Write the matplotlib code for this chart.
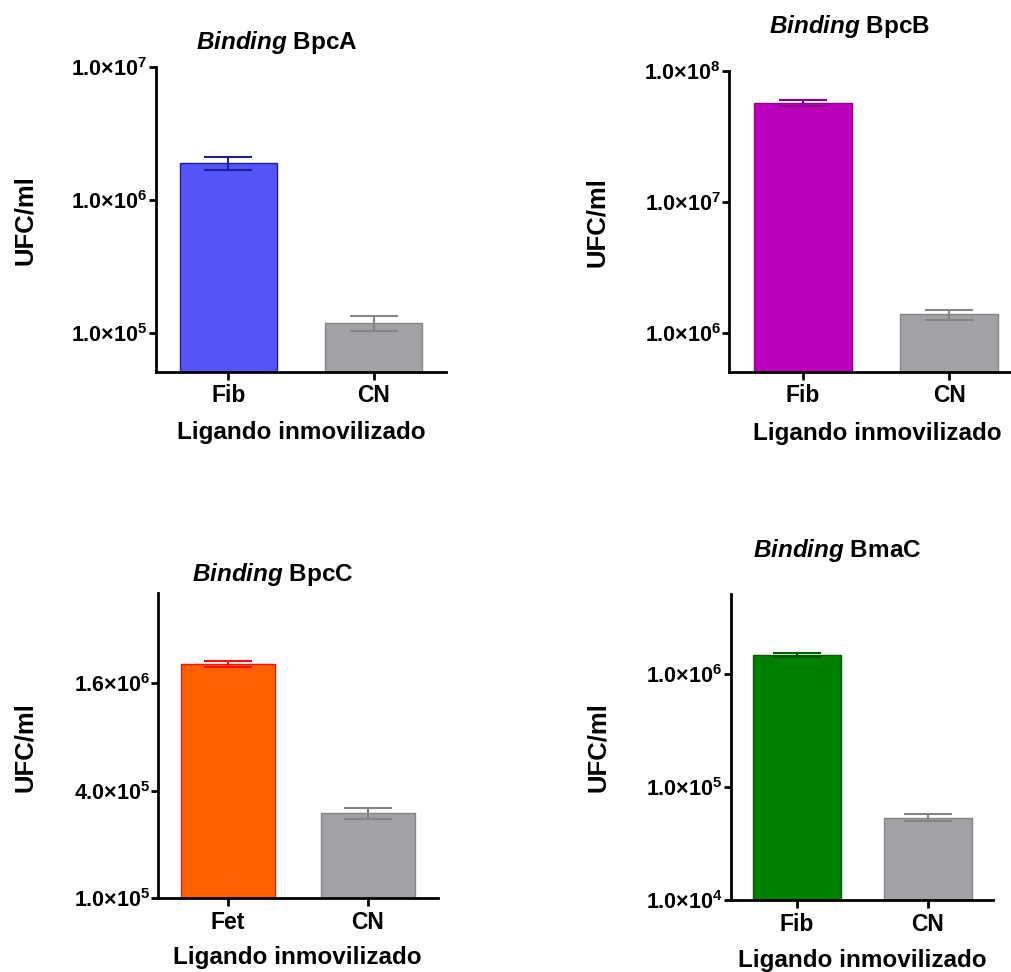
import matplotlib
matplotlib.use("Agg")
import matplotlib.pyplot as plt

plt.rcParams["font.family"] = ["Liberation Sans", "DejaVu Sans"]
plt.rcParams["font.weight"] = "bold"
plt.rcParams["mathtext.fontset"] = "custom"
plt.rcParams["mathtext.rm"] = "Liberation Sans:weight=bold"
plt.rcParams["mathtext.bf"] = "Liberation Sans:weight=bold"
plt.rcParams["mathtext.it"] = "Liberation Sans:style=italic:weight=bold"

# ---- data: mean UFC/ml and error per immobilised ligand ----
bpca_ligands = ["Fib", "CN"]
bpca_values = [1.9e6, 1.19e5]
bpca_errors = [2.2e5, 1.5e4]
bpca_yticks = [1e5, 1e6, 1e7]
bpca_yticklabels = ["1.0×10$^{5}$", "1.0×10$^{6}$", "1.0×10$^{7}$"]

bpcb_ligands = ["Fib", "CN"]
bpcb_values = [5.7e7, 1.38e6]
bpcb_errors = [3.0e6, 1.2e5]
bpcb_yticks = [1e6, 1e7, 1e8]
bpcb_yticklabels = ["1.0×10$^{6}$", "1.0×10$^{7}$", "1.0×10$^{8}$"]

bpcc_ligands = ["Fet", "CN"]
bpcc_values = [2.05e6, 3.0e5]
bpcc_errors = [7.0e4, 2.2e4]
bpcc_yticks = [1e5, 4e5, 1.6e6]
bpcc_yticklabels = ["1.0×10$^{5}$", "4.0×10$^{5}$", "1.6×10$^{6}$"]

bmac_ligands = ["Fib", "CN"]
bmac_values = [1.47e6, 5.35e4]
bmac_errors = [5.0e4, 4.0e3]
bmac_yticks = [1e4, 1e5, 1e6]
bmac_yticklabels = ["1.0×10$^{4}$", "1.0×10$^{5}$", "1.0×10$^{6}$"]

proteins = ["BpcA", "BpcB", "BpcC", "BmaC"]

W, H = 1012, 972
fig = plt.figure(figsize=(W / 100, H / 100), dpi=100)


def rect(l, r, t, b):
    return [l / W, 1 - b / H, (r - l) / W, (b - t) / H]


def ftext(x, y, s, **kw):
    fig.text(x / W, 1 - y / H, s, ha="center", va="center", **kw)


panels = [
    dict(rect=rect(156, 446, 67, 372), ylim=(5.09e4, 1e7),
         ligands=bpca_ligands, values=bpca_values, errors=bpca_errors,
         yticks=bpca_yticks, yticklabels=bpca_yticklabels,
         face="#5555F7", edge="#1E1E9C",
         title_xy=(277, 42), ylabel_xy=(25, 220), xlabel_xy=(301, 432)),
    dict(rect=rect(729.3, 1022.7, 70.7, 371.7), ylim=(5.04e5, 1e8),
         ligands=bpcb_ligands, values=bpcb_values, errors=bpcb_errors,
         yticks=bpcb_yticks, yticklabels=bpcb_yticklabels,
         face="#BB00BB", edge="#8E008E",
         title_xy=(850, 26), ylabel_xy=(597, 222), xlabel_xy=(877, 433)),
    dict(rect=rect(158.3, 437.7, 593.3, 898.3), ylim=(1e5, 5.1e6),
         ligands=bpcc_ligands, values=bpcc_values, errors=bpcc_errors,
         yticks=bpcc_yticks, yticklabels=bpcc_yticklabels,
         face="#FF6000", edge="#FF1010",
         title_xy=(273, 575), ylabel_xy=(25, 747), xlabel_xy=(297, 957)),
    dict(rect=rect(731, 993.3, 594, 900), ylim=(1e4, 5.1e6),
         ligands=bmac_ligands, values=bmac_values, errors=bmac_errors,
         yticks=bmac_yticks, yticklabels=bmac_yticklabels,
         face="#008000", edge="#005E00",
         title_xy=(837, 551), ylabel_xy=(598, 747), xlabel_xy=(862, 960)),
]

control_face = "#A2A1A6"
control_edge = "#858585"

for p, protein in zip(panels, proteins):
    ax = fig.add_axes(p["rect"])
    ax.set_yscale("log")
    x = list(range(len(p["ligands"])))
    faces = [p["face"], control_face]
    edges = [p["edge"], control_edge]
    ax.bar(x, p["values"], width=0.67, color=faces, edgecolor=edges,
           linewidth=1.0, zorder=2)
    for xi, v, e, c in zip(x, p["values"], p["errors"], edges):
        ax.errorbar(xi, v, yerr=e, fmt="none", ecolor=c, elinewidth=1.5,
                    capsize=17.5, capthick=1.5, zorder=3)
    ax.set_xlim(-0.5, 1.5)
    ax.set_ylim(*p["ylim"])
    ax.set_yticks(p["yticks"])
    ax.set_yticklabels(p["yticklabels"])
    ax.yaxis.set_minor_locator(matplotlib.ticker.NullLocator())
    ax.set_xticks(x)
    ax.set_xticklabels(p["ligands"])
    for side in ("top", "right"):
        ax.spines[side].set_visible(False)
    for side in ("left", "bottom"):
        ax.spines[side].set_linewidth(2.0)
    ax.tick_params(axis="y", length=5, width=2, pad=1, labelsize=15.5)
    ax.tick_params(axis="x", length=6, width=2, pad=3, labelsize=16.5)
    for lab in ax.get_xticklabels() + ax.get_yticklabels():
        lab.set_fontweight("bold")
    ax.patch.set_visible(False)

    ftext(*p["title_xy"], r"$\mathit{Binding}$ " + protein, fontsize=17.5,
          fontweight="bold")
    ftext(*p["ylabel_xy"], "UFC/ml", fontsize=18.5, fontweight="bold",
          rotation=90)
    ftext(*p["xlabel_xy"], "Ligando inmovilizado", fontsize=17.5,
          fontweight="bold")

fig.savefig("out.png", dpi=100)
